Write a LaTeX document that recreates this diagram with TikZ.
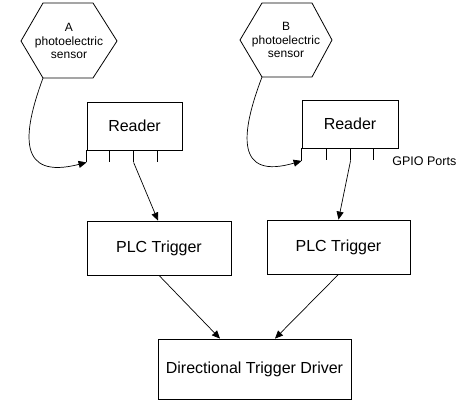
\documentclass[tikz,border=0pt]{standalone}
\usepackage{fontspec}
\setmainfont{Liberation Sans}
\usetikzlibrary{arrows.meta}
\begin{document}
\begin{tikzpicture}[x=1pt,y=-1pt,line width=0.8pt,
  box/.style={draw, line width=0.8pt, inner sep=0pt, font=\fontsize{16}{19}\selectfont},
  hexline/.style={draw, line width=0.8pt},
  hextext/.style={align=center, inner sep=0pt, font=\fontsize{12}{13.4}\selectfont},
  conn/.style={-{Triangle[length=8pt,width=7pt]}, line width=0.7pt},
  portline/.style={line width=0.8pt}]
\useasboundingbox (0,0) rectangle (473,401);

% Sensor A hexagon
\path[hexline] (21,41) -- (43,3) -- (93,3) -- (117,41) -- (93,78) -- (43,78) coordinate (hA) -- cycle;
\node[hextext] (sensA) at (69,41) {A\\photoelectric\\sensor};

% Sensor B hexagon
\path[hexline] (240,40) -- (262,3) -- (312,3) -- (332,40) -- (312,77) -- (262,77) coordinate (hB) -- cycle;
\node[hextext] (sensB) at (286,40) {B\\photoelectric\\sensor};

% Readers
\node[box, minimum width=95pt, minimum height=48pt] (readerA) at (134.5,126) {Reader};
\node[box, minimum width=96pt, minimum height=48pt] (readerB) at (350,124) {Reader};

% Ports A
\draw[portline] (readerA.south west) -- ++(0,12) coordinate (pA0);
\draw[portline] ([xshift=23pt]readerA.south west) -- ++(0,12) coordinate (pA1);
\draw[portline] ([xshift=47pt]readerA.south west) -- ++(0,12) coordinate (pA2);
\draw[portline] ([xshift=71pt]readerA.south west) -- ++(0,12) coordinate (pA3);

% Ports B
\draw[portline] (readerB.south west) -- ++(0,12.5) coordinate (pB0);
\draw[portline] ([xshift=25pt]readerB.south west) -- ++(0,12) coordinate (pB1);
\draw[portline] ([xshift=49pt]readerB.south west) -- ++(0,12) coordinate (pB2);
\draw[portline] ([xshift=72pt]readerB.south west) -- ++(0,12) coordinate (pB3);

\node[anchor=west, inner sep=0pt, font=\fontsize{12.5}{15}\selectfont] (gpio) at (392,161) {GPIO Ports};

% PLC triggers and driver
\node[box, minimum width=144pt, minimum height=54pt] (plcA) at (159,248) {PLC Trigger};
\node[box, minimum width=143pt, minimum height=54pt] (plcB) at (338.5,247) {PLC Trigger};
\node[box, minimum width=193pt, minimum height=60pt] (dtd) at (254.5,369) {Directional Trigger Driver};

% Connectors
\draw[conn] (hA) .. controls (22,135) and (18,180) .. (pA0);
\draw[conn] (hB) .. controls (240,135) and (236,180) .. (pB0);
\draw[conn] (pA2) -- ([xshift=-1pt]plcA.north);
\draw[conn] (pB2) -- (plcB.north);
\draw[conn] (plcA.south) -- ([xshift=-34.5pt]dtd.north);
\draw[conn] (plcB.south) -- ([xshift=20.5pt]dtd.north);
\end{tikzpicture}
\end{document}
